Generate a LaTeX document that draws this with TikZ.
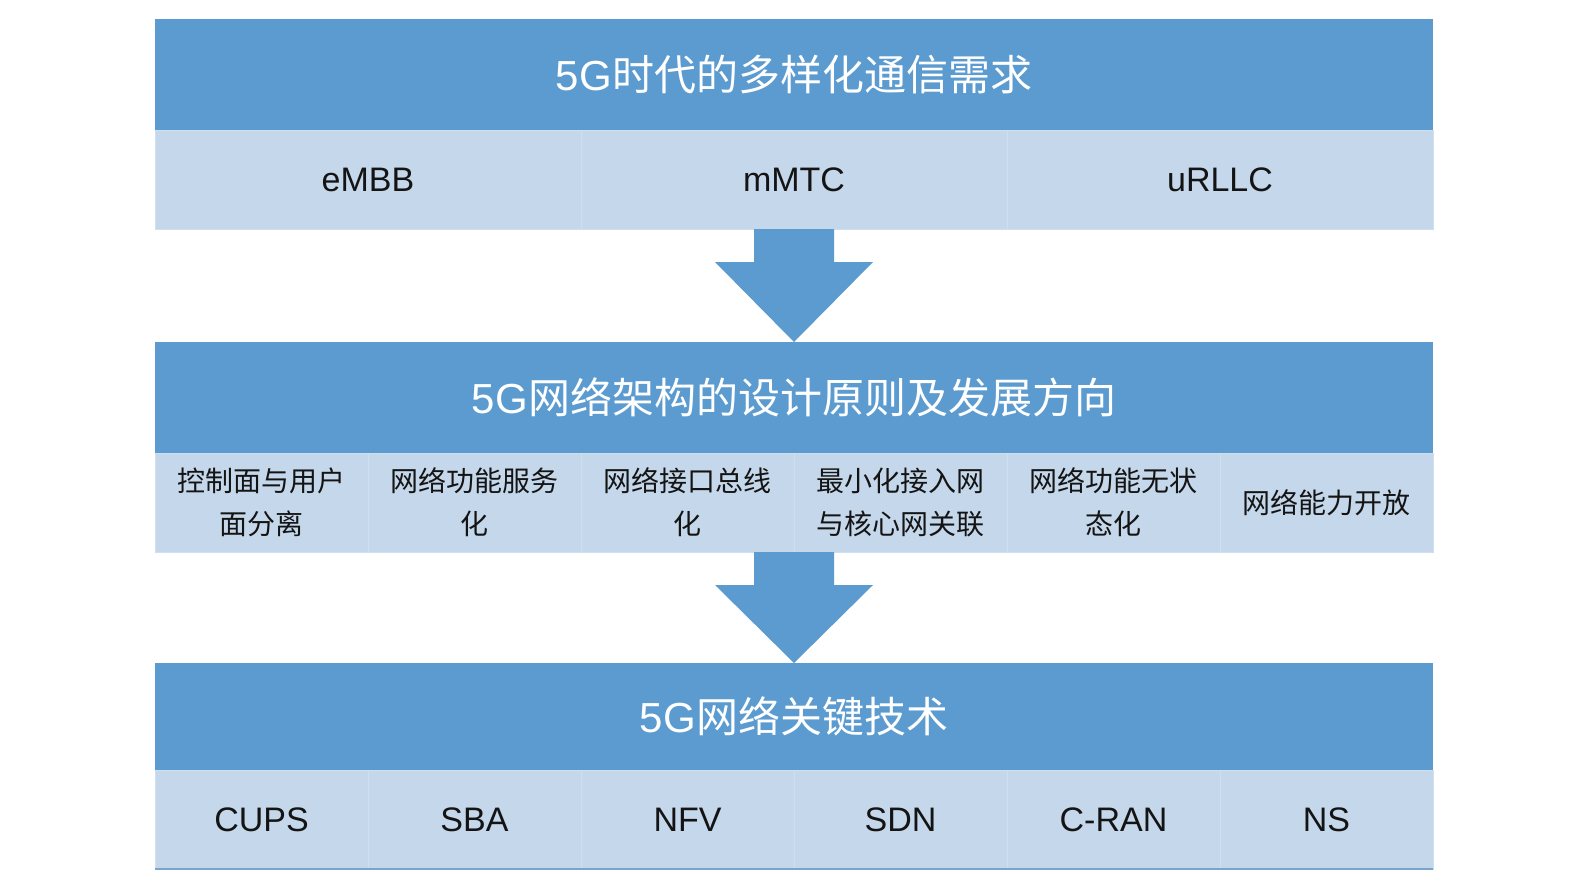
\documentclass[tikz,border=0pt]{standalone}
\usepackage{fontspec}
\setmainfont{Liberation Sans}
\newfontfamily\cjk{Noto Sans CJK SC}
\usetikzlibrary{positioning,calc}

\definecolor{headblue}{RGB}{91,155,208}
\definecolor{cellblue}{RGB}{197,215,234}
\definecolor{sepblue}{RGB}{208,223,239}
\definecolor{edgeblue}{RGB}{122,164,204}

\begin{document}
\begin{tikzpicture}
[
    x=1pt, y=-1pt,
    header/.style={fill=headblue, text=white, minimum width=1278pt, minimum height=111pt,
        inner sep=0pt, outer sep=0pt, font=\cjk\fontsize{42}{48}\selectfont},
    cell/.style={fill=cellblue, draw=sepblue, line width=0.8pt, minimum height=99pt,
        inner sep=0pt, outer sep=0pt, text=black!92, font=\fontsize{34}{40}\selectfont},
    wide cell/.style={cell, minimum width=426pt},
    narrow cell/.style={cell, minimum width=213pt},
    cn cell/.style={narrow cell, align=center, font=\cjk\fontsize{28}{43}\selectfont},
    block arrow/.style={fill=headblue}
]
    \useasboundingbox (0,0) rectangle (1593,876);

    % demands
    \node [header, anchor=north west] (demand) at (155,19) {{\rmfamily 5G}时代的多样化通信需求};
    \node [wide cell, below right=0pt and 0pt of demand.south west] (embb) {eMBB};
    \node [wide cell, right=0pt of embb] (mmtc) {mMTC};
    \node [wide cell, right=0pt of mmtc] (urllc) {uRLLC};

    % principles
    \node [header, anchor=north west] (principle) at (155,342) {{\rmfamily 5G}网络架构的设计原则及发展方向};
    \node [cn cell, below right=0pt and 0pt of principle.south west] (cups text) {控制面与用户\\面分离};
    \node [cn cell, right=0pt of cups text] (sba text) {网络功能服务\\化};
    \node [cn cell, right=0pt of sba text] (bus text) {网络接口总线\\化};
    \node [cn cell, right=0pt of bus text] (ran text) {最小化接入网\\与核心网关联};
    \node [cn cell, right=0pt of ran text] (state text) {网络功能无状\\态化};
    \node [cn cell, right=0pt of state text] (open text) {网络能力开放};

    % key technologies
    \node [header, minimum height=107pt, anchor=north west] (tech) at (155,663) {{\rmfamily 5G}网络关键技术};
    \node [narrow cell, below right=0pt and 0pt of tech.south west] (cups) {CUPS};
    \node [narrow cell, right=0pt of cups] (sba) {SBA};
    \node [narrow cell, right=0pt of sba] (nfv) {NFV};
    \node [narrow cell, right=0pt of nfv] (sdn) {SDN};
    \node [narrow cell, right=0pt of sdn] (cran) {C-RAN};
    \node [narrow cell, right=0pt of cran] (ns) {NS};
    \draw [edgeblue, line width=2pt] (cups.south west) -- (ns.south east);

    % arrows between the blocks
    \fill [block arrow] ($(mmtc.south)+(-40,0)$) -- ($(mmtc.south)+(40,0)$)
        -- ($(mmtc.south)+(40,33)$) -- ($(mmtc.south)+(79,33)$) -- (principle.north)
        -- ($(mmtc.south)+(-79,33)$) -- ($(mmtc.south)+(-40,33)$) -- cycle;
    \fill [block arrow] ($(bus text.south east)+(-40,0)$) -- ($(bus text.south east)+(40,0)$)
        -- ($(bus text.south east)+(40,33)$) -- ($(bus text.south east)+(79,33)$) -- (tech.north)
        -- ($(bus text.south east)+(-79,33)$) -- ($(bus text.south east)+(-40,33)$) -- cycle;
\end{tikzpicture}
\end{document}
